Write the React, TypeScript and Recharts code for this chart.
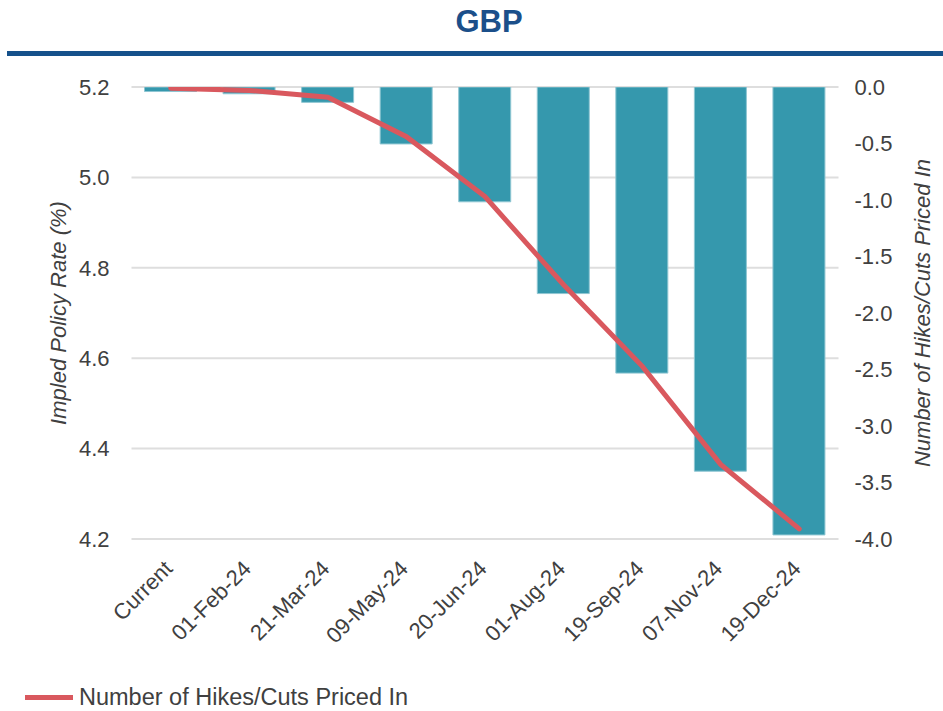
import React from "react"
import {
  ComposedChart,
  Bar,
  Line,
  XAxis,
  YAxis,
  CartesianGrid,
  Legend,
} from "recharts"

const categories = [
  "Current",
  "01-Feb-24",
  "21-Mar-24",
  "09-May-24",
  "20-Jun-24",
  "01-Aug-24",
  "19-Sep-24",
  "07-Nov-24",
  "19-Dec-24",
]
const impliedRate = [5.19, 5.185, 5.166, 5.074, 4.946, 4.743, 4.567, 4.35, 4.209]
const hikesCuts = [-0.01, -0.03, -0.09, -0.44, -0.97, -1.75, -2.47, -3.34, -3.91]
const leftTicks = [4.2, 4.4, 4.6, 4.8, 5.0, 5.2]
const rightTicks = [-4, -3.5, -3, -2.5, -2, -1.5, -1, -0.5, 0]
const rateTop = 5.2

const BAR = "#3598ad"
const LINE = "#d9585e"
const TEXT = "#404040"

const chartData = categories.map((name, i) => ({
  name,
  rate: [rateTop, impliedRate[i]],
  cuts: hikesCuts[i],
}))

function AxisTitle(props: any) {
  const { viewBox, px, text } = props
  const cy = viewBox.y + viewBox.height / 2
  return (
    <text
      x={px}
      y={cy}
      transform={`rotate(-90 ${px} ${cy})`}
      textAnchor="middle"
      dominantBaseline="central"
      fontSize={22}
      fontStyle="italic"
      fill={TEXT}
    >
      {text}
    </text>
  )
}

// rotated category label, end of text sits just below-left of the bar centre
function DateTick(props: any) {
  const { x, y, payload } = props
  return (
    <g transform={`translate(${x - 8},${y + 10})`}>
      <text
        textAnchor="end"
        transform="rotate(-45)"
        dy="0.71em"
        fontSize={22}
        fill={TEXT}
      >
        {payload.value}
      </text>
    </g>
  )
}

function LegendLine() {
  return (
    <div style={{ display: "flex", alignItems: "center", color: TEXT, fontSize: 23.5 }}>
      <span style={{ width: 48, height: 5, background: LINE, marginRight: 6 }} />
      <span>Number of Hikes/Cuts Priced In</span>
    </div>
  )
}

export default function App() {
  return (
    <div
      style={{
        position: "absolute",
        left: 0,
        top: 0,
        width: 943,
        height: 711,
        background: "#fff",
        fontFamily: "'Liberation Sans', Arial, sans-serif",
      }}
    >
      <div
        style={{
          position: "absolute",
          top: 4,
          left: 0,
          width: 943,
          paddingLeft: 35,
          boxSizing: "border-box",
          textAlign: "center",
          fontSize: 31,
          fontWeight: 700,
          color: "#1b4f8a",
        }}
      >
        GBP
      </div>
      <div
        style={{
          position: "absolute",
          top: 51,
          left: 7,
          width: 936,
          height: 5,
          background: "#15518b",
        }}
      />
      <ComposedChart
        width={943}
        height={711}
        data={chartData}
        margin={{ top: 87, right: 0, bottom: 25, left: 0 }}
        style={{ position: "absolute", left: 0, top: 0 }}
      >
        <CartesianGrid
          yAxisId="left"
          vertical={false}
          stroke="#dedede"
          strokeWidth={2}
        />
        <XAxis
          dataKey="name"
          interval={0}
          height={120}
          axisLine={false}
          tickLine={false}
          tick={<DateTick />}
          tickMargin={4}
        />
        <YAxis
          yAxisId="left"
          width={131.5}
          domain={[4.2, 5.2]}
          ticks={leftTicks}
          allowDataOverflow
          axisLine={false}
          tickLine={false}
          tickMargin={16}
          tick={{ fontSize: 22, fill: TEXT }}
          tickFormatter={(v: number) => v.toFixed(1)}
          label={<AxisTitle px={58} text="Impled Policy Rate (%)" />}
        />
        <YAxis
          yAxisId="right"
          orientation="right"
          width={104.5}
          domain={[-4, 0]}
          ticks={rightTicks}
          allowDataOverflow
          axisLine={false}
          tickLine={false}
          tickMargin={10}
          tick={{ fontSize: 22, fill: TEXT }}
          tickFormatter={(v: number) => v.toFixed(1)}
          label={<AxisTitle px={922} text="Number of Hikes/Cuts Priced In" />}
        />
        <Bar
          yAxisId="left"
          dataKey="rate"
          fill={BAR}
          stroke="#8fc6d2"
          strokeWidth={1}
          barSize={52}
          legendType="none"
          isAnimationActive={false}
        />
        <Line
          yAxisId="right"
          dataKey="cuts"
          type="linear"
          stroke={LINE}
          strokeWidth={5}
          strokeLinecap="round"
          dot={false}
          activeDot={false}
          isAnimationActive={false}
        />
        <Legend
          content={() => <LegendLine />}
          wrapperStyle={{ position: "absolute", left: 25, top: 684, width: "auto" }}
        />
      </ComposedChart>
    </div>
  )
}
